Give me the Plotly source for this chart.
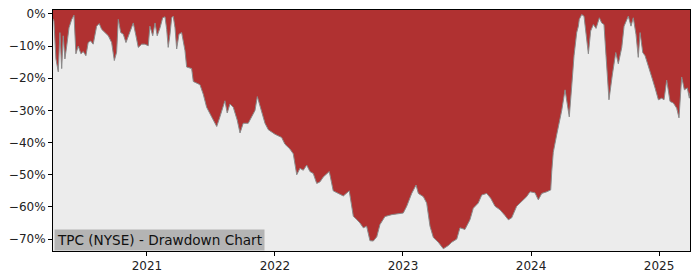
import plotly.graph_objects as go

# decimal-year dates and drawdown values (%)
dates = [
    2020.266, 2020.273, 2020.289, 2020.307, 2020.320, 2020.334, 2020.346, 2020.359, 2020.373, 2020.391,
    2020.412, 2020.430, 2020.445, 2020.463, 2020.484, 2020.502, 2020.523, 2020.541, 2020.560, 2020.580,
    2020.607, 2020.627, 2020.646, 2020.672, 2020.698, 2020.724, 2020.745, 2020.763, 2020.776, 2020.795,
    2020.815, 2020.836, 2020.854, 2020.875, 2020.893, 2020.914, 2020.932, 2020.959, 2020.984, 2021.010,
    2021.023, 2021.045, 2021.063, 2021.080, 2021.102, 2021.123, 2021.141, 2021.154, 2021.166, 2021.180,
    2021.193, 2021.205, 2021.219, 2021.232, 2021.250, 2021.271, 2021.297, 2021.310, 2021.349, 2021.362,
    2021.414, 2021.440, 2021.466, 2021.505, 2021.545, 2021.570, 2021.609, 2021.627, 2021.648, 2021.674,
    2021.705, 2021.727, 2021.752, 2021.791, 2021.818, 2021.844, 2021.862, 2021.888, 2021.922, 2021.948,
    2022.000, 2022.052, 2022.078, 2022.117, 2022.143, 2022.170, 2022.195, 2022.221, 2022.248, 2022.273,
    2022.299, 2022.326, 2022.352, 2022.377, 2022.424, 2022.455, 2022.495, 2022.534, 2022.580, 2022.612,
    2022.638, 2022.664, 2022.690, 2022.716, 2022.742, 2022.768, 2022.795, 2022.820, 2022.859, 2022.912,
    2023.002, 2023.029, 2023.068, 2023.102, 2023.120, 2023.159, 2023.185, 2023.211, 2023.237, 2023.276,
    2023.315, 2023.354, 2023.380, 2023.420, 2023.445, 2023.484, 2023.523, 2023.549, 2023.588, 2023.615,
    2023.654, 2023.685, 2023.719, 2023.758, 2023.797, 2023.823, 2023.849, 2023.888, 2023.927, 2023.966,
    2023.992, 2024.031, 2024.057, 2024.084, 2024.123, 2024.154, 2024.162, 2024.174, 2024.201, 2024.227,
    2024.240, 2024.266, 2024.284, 2024.299, 2024.318, 2024.336, 2024.357, 2024.370, 2024.377, 2024.396,
    2024.414, 2024.422, 2024.435, 2024.448, 2024.466, 2024.487, 2024.508, 2024.526, 2024.534, 2024.552,
    2024.570, 2024.586, 2024.609, 2024.635, 2024.662, 2024.682, 2024.709, 2024.727, 2024.760, 2024.781,
    2024.799, 2024.820, 2024.838, 2024.852, 2024.873, 2024.891, 2024.916, 2024.943, 2024.969, 2024.995,
    2025.021, 2025.039, 2025.060, 2025.086, 2025.112, 2025.138, 2025.156, 2025.177, 2025.198, 2025.221,
    2025.237, 2025.242,
]
drawdown_pct = [
    -1.5, -2.2, -14.0, -18.0, -5.8, -17.0, -6.8, -14.0, -10.0, -4.3,
    -1.7, -0.4, -12.4, -10.0, -12.4, -11.7, -13.0, -8.9, -8.4, -9.4,
    -3.8, -3.0, -4.8, -5.8, -6.8, -8.9, -14.5, -11.9, -1.7, -5.8,
    -6.3, -8.9, -6.8, -4.3, -2.8, -6.8, -10.4, -9.4, -9.4, -9.9,
    -3.8, -6.8, -2.8, -6.8, -4.3, -1.2, -0.9, -4.8, -10.4, -6.3,
    -1.2, -0.7, -4.3, -10.9, -6.3, -5.8, -11.4, -16.5, -17.0, -21.0,
    -22.0, -25.0, -29.0, -32.0, -35.0, -32.0, -27.0, -30.8, -28.0, -29.0,
    -33.0, -37.0, -34.0, -34.0, -32.0, -30.0, -25.7, -29.0, -34.0, -36.0,
    -37.4, -38.4, -40.5, -42.0, -43.5, -50.0, -48.0, -48.6, -47.0, -49.0,
    -49.6, -52.7, -52.2, -50.7, -49.0, -55.0, -55.8, -56.6, -55.0, -62.9,
    -63.9, -65.0, -66.5, -66.0, -70.5, -70.6, -69.3, -65.5, -63.0, -62.4,
    -61.9, -59.8, -55.8, -53.2, -55.8, -56.8, -58.8, -66.0, -69.5, -71.0,
    -73.0, -72.0, -71.0, -70.0, -66.5, -67.0, -64.0, -60.4, -58.8, -56.3,
    -55.8, -57.3, -59.8, -60.9, -62.7, -64.0, -63.4, -59.8, -58.3, -56.8,
    -55.3, -55.6, -57.8, -55.8, -55.3, -54.7, -49.0, -43.0, -37.5, -33.0,
    -30.0, -23.6, -27.5, -32.0, -22.5, -13.0, -5.8, -3.8, -1.7, -0.2,
    -0.7, -3.8, -7.9, -12.4, -5.3, -3.3, -4.5, -2.2, -1.2, -2.8,
    -3.3, -13.0, -26.7, -19.0, -12.0, -15.5, -10.4, -3.8, -0.7, -3.8,
    -1.2, -6.3, -13.5, -5.8, -12.0, -13.0, -16.5, -19.6, -23.0, -26.7,
    -26.2, -26.7, -20.6, -27.2, -27.7, -29.3, -32.3, -19.6, -23.6, -23.0,
    -26.2, -24.5,
]
tick_years = [2021, 2022, 2023, 2024, 2025]
tick_labels = ["2021", "2022", "2023", "2024", "2025"]
y_ticks = [0, -10, -20, -30, -40, -50, -60, -70]
title_text = "TPC (NYSE) - Drawdown Chart"

x_range = [2020.266, 2025.242]
y_range = [-73.7, 1.22]

fig = go.Figure()
# invisible top boundary to fill against
fig.add_trace(go.Scatter(
    x=[x_range[0], x_range[1]], y=[y_range[1], y_range[1]],
    mode="lines", line=dict(width=0, color="rgba(0,0,0,0)"),
    hoverinfo="skip", showlegend=False,
))
fig.add_trace(go.Scatter(
    x=dates, y=drawdown_pct, mode="lines",
    line=dict(color="#8a8a8a", width=1),
    fill="tonexty", fillcolor="#b03131",
    showlegend=False,
))

fig.update_layout(
    width=700, height=280,
    margin=dict(l=53, r=10, t=7, b=28),
    paper_bgcolor="white", plot_bgcolor="#ececec",
    font=dict(family="DejaVu Sans", size=12, color="#222"),
    showlegend=False,
)
fig.update_xaxes(
    range=x_range, tickvals=tick_years, ticktext=tick_labels,
    showgrid=False, zeroline=False,
    showline=True, linecolor="black", linewidth=1, mirror=True,
    ticks="outside", ticklen=4, tickcolor="black",
)
fig.update_yaxes(
    range=y_range, tickvals=y_ticks,
    ticktext=[("\u2212" if v < 0 else "") + f"{abs(v)}%" for v in y_ticks],
    showgrid=False, zeroline=False,
    showline=True, linecolor="black", linewidth=1, mirror=True,
    ticks="outside", ticklen=4, tickcolor="black",
)
fig.add_annotation(
    text=title_text, xref="paper", yref="paper", x=0.002, y=0.0,
    xanchor="left", yanchor="bottom", showarrow=False,
    font=dict(family="DejaVu Sans", size=13.6, color="#111"),
    bgcolor="#b4b4b4", borderpad=2,
)

fig.write_html("out.html")
